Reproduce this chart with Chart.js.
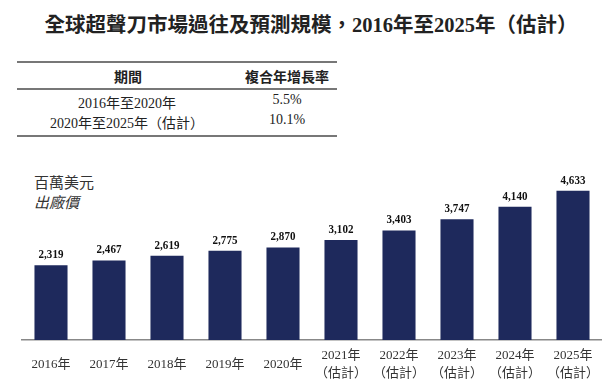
<!DOCTYPE html>
<html><head><meta charset="utf-8">
<script src="https://cdn.jsdelivr.net/npm/chart.js@4"></script>
<style>
html,body{margin:0;padding:0;background:#fff;width:608px;height:392px;overflow:hidden;}
#title{position:absolute;left:0;width:622px;top:8px;text-align:center;font:bold 20.5px "Liberation Serif","Noto Sans CJK TC";color:#222;white-space:nowrap;}
.line{position:absolute;left:17px;width:320px;height:2px;background:#777;}
.cell{position:absolute;text-align:center;white-space:nowrap;color:#222;}
.hd{font:bold 14px "Noto Sans CJK TC";}
.rw{font:14px "Liberation Serif","Noto Sans CJK TC";}
#unit{position:absolute;left:34px;top:173px;font:15px "Liberation Serif","Noto Sans CJK TC";color:#333;line-height:20px;}
#wrap{position:absolute;left:0;top:150px;width:615px;height:262px;}
</style></head><body>
<div id="title">全球超聲刀市場過往及預測規模，2016年至2025年（估計）</div>
<div class="line" style="top:61px"></div>
<div class="line" style="top:88px"></div>
<div class="line" style="top:135px"></div>
<div class="cell hd" style="left:78px;width:100px;top:66px">期間</div>
<div class="cell hd" style="left:207px;width:160px;top:66px">複合年增長率</div>
<div class="cell rw" style="left:27px;width:200px;top:92px">2016年至2020年</div>
<div class="cell rw" style="left:27px;width:200px;top:112px">2020年至2025年（估計）</div>
<div class="cell rw" style="left:237px;width:100px;top:92px">5.5%</div>
<div class="cell rw" style="left:237px;width:100px;top:112px">10.1%</div>
<div id="unit">百萬美元<br><i>出廠價</i></div>
<div id="wrap"><canvas id="c" width="615" height="262"></canvas></div>
<script>
const categories = [["2016年"],["2017年"],["2018年"],["2019年"],["2020年"],["2021年","（估計）"],["2022年","（估計）"],["2023年","（估計）"],["2024年","（估計）"],["2025年","（估計）"]];
const marketSize = [2319, 2467, 2619, 2775, 2870, 3102, 3403, 3747, 4140, 4633];
const valueLabels = ["2,319","2,467","2,619","2,775","2,870","3,102","3,403","3,747","4,140","4,633"];

const labelPlugin = {
  id: 'vals',
  afterDatasetsDraw(chart) {
    const ctx = chart.ctx;
    const meta = chart.getDatasetMeta(0);
    ctx.save();
    ctx.font = 'bold 13px "Liberation Serif"';
    ctx.fillStyle = '#111';
    ctx.textAlign = 'center';
    ctx.textBaseline = 'bottom';
    meta.data.forEach((bar, i) => {
      ctx.save();
      ctx.translate(bar.x, bar.y - 4);
      ctx.scale(0.85, 1);
      ctx.fillText(valueLabels[i], 0, 0);
      ctx.restore();
    });
    ctx.restore();
  }
};

new Chart(document.getElementById('c'), {
  type: 'bar',
  data: { labels: categories, datasets: [{ data: marketSize, backgroundColor: '#1e295c', categoryPercentage: 1, barPercentage: 0.57 }] },
  options: {
    responsive: false, animation: false,
    layout: { padding: { left: 22, right: 0, top: 29, bottom: 4 } },
    plugins: { legend: { display: false }, tooltip: { enabled: false } },
    scales: {
      x: {
        grid: { display: false, drawTicks: false },
        border: { display: true, color: '#888', width: 1.5 },
        ticks: { color: '#333', font: { family: '"Liberation Serif","Noto Sans CJK TC"', size: 13, lineHeight: '18px' }, padding: 16, crossAlign: 'center', maxRotation: 0, autoSkip: false }
      },
      y: { display: false, min: 0, max: 5000 }
    }
  },
  plugins: [labelPlugin]
});
</script>
</body></html>
